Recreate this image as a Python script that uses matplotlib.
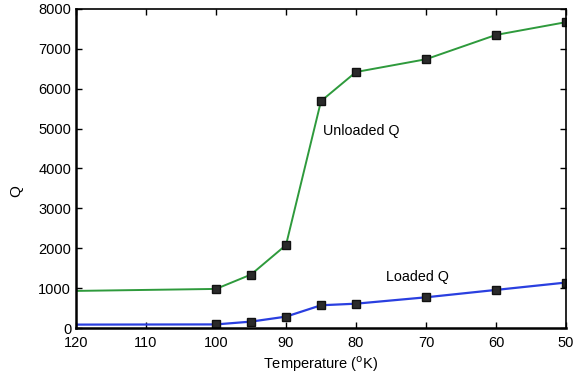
import matplotlib
matplotlib.use("Agg")
import matplotlib.pyplot as plt

temps = [120, 100, 95, 90, 85, 80, 70, 60, 50]
unloaded_q = [930, 980, 1340, 2080, 5690, 6420, 6740, 7350, 7670]
loaded_q = [85, 90, 160, 285, 570, 610, 770, 955, 1140]
xticks = [120, 110, 100, 90, 80, 70, 60, 50]
yticks = [0, 1000, 2000, 3000, 4000, 5000, 6000, 7000, 8000]

plt.rcParams['font.family'] = ['Liberation Sans', 'DejaVu Sans']
fig = plt.figure(figsize=(5.85, 3.78), dpi=100)
ax = fig.add_axes([76/585, 1-328/378, (566-76)/585, (328-9)/378])

green = '#2e9a3c'
blue = '#2a3fe0'
mk = dict(marker='s', markersize=6.3, markerfacecolor='#2a2a2a', markeredgecolor='#111111',
          markevery=slice(1, None))
ax.plot(temps, unloaded_q, color=green, lw=1.4, **mk)
ax.plot(temps, loaded_q, color=blue, lw=1.6, **mk)

ax.set_xlim(120, 50)
ax.set_ylim(0, 8000)
ax.set_xticks(xticks)
ax.set_yticks(yticks)
ax.tick_params(direction='in', top=True, right=True, labelsize=10.5, length=4, width=1)
ax.tick_params(axis='x', pad=6)
for s in ['left', 'bottom']:
    ax.spines[s].set_linewidth(1.8)
for s in ['top', 'right']:
    ax.spines[s].set_linewidth(1.2)

ax.set_xlabel('Temperature ($^{\\mathrm{o}}$K)', fontsize=10.5, labelpad=3)
ax.set_ylabel('Q', fontsize=11)
ax.yaxis.set_label_coords(-0.108, 0.43)

ax.text(0.505, 0.605, 'Unloaded Q', transform=ax.transAxes, fontsize=10.3)
ax.text(0.632, 0.148, 'Loaded Q', transform=ax.transAxes, fontsize=10.3)

fig.savefig('out.png', dpi=100)
